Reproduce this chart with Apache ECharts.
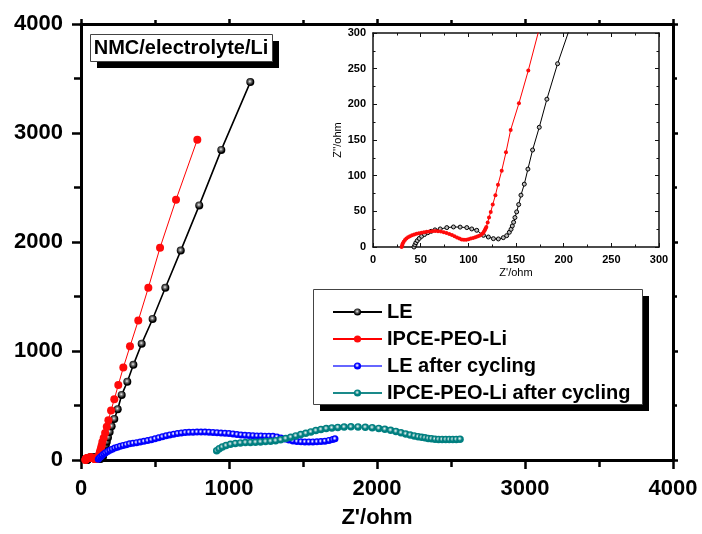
<!DOCTYPE html>
<html>
<head>
<meta charset="utf-8">
<title>NMC/electrolyte/Li impedance</title>
<script src="https://cdn.jsdelivr.net/npm/echarts@6/dist/echarts.min.js"></script>
<style>
  html, body { margin: 0; padding: 0; background: #fff; }
  #chart { width: 702px; height: 534px; }
</style>
</head>
<body>
<div id="chart"></div>
<script>
// Nyquist data, [Z' (ohm), Z'' (ohm)]
const seriesNames = ['LE', 'IPCE-PEO-Li', 'LE after cycling', 'IPCE-PEO-Li after cycling'];

const le = [
  [43,0],[44,3],[45,6],[46.5,9],[48.5,12],[51,15],[54,17.5],[57.5,20],[61,22],[65,24],
  [70.5,25.3],[77.4,27.2],[84.4,28.1],[91.4,27.9],[98.4,27.2],[103.6,25.3],[108.8,23.4],
  [115.8,16.4],[121,14],[126.3,11.7],[131.5,11.3],[136.7,13.1],[140.2,15.9],[143,20.6],
  [144.8,24.8],[146.1,29.5],[147.5,34.7],[148.9,41.3],[150.7,49.2],[152.8,59.5],[155.2,72.7],
  [158.7,88.1],[162.5,109.2],[167.4,136],[174.4,167.8],[182.4,207.2],[193.6,256.9],[207,309],
  [225,376],[248,466],[275,597],[313,718],[354,873],[410,1067],[484,1294],[570,1580],
  [674,1921],[799,2336],[948,2845],[1144,3467]
];

const ipce = [
  [30,0],[30.5,2.5],[31.2,5],[32.2,7.5],[33.5,9.8],[35,11.8],[36.8,13.5],[38.8,15],[41,16.3],
  [43.3,17.4],[45.7,18.4],[48.2,19.3],[50.8,20.1],[53.5,20.8],[56.3,21.4],[59.2,21.9],[62.2,22.2],
  [65.2,22.3],[68.2,22.1],[71.2,21.6],[74.2,20.8],[77.1,19.7],[80,18.3],[82.8,16.7],[85.5,15],
  [88.1,13.3],[90.6,11.8],[93,10.6],[95.4,10],[97.8,10.2],[100.2,10.9],[102.6,11.8],[105,12.7],
  [107.3,13.6],[109.5,14.6],[111.5,15.8],[113.3,17.2],[114.9,19],[116.2,21.2],[117.2,23.5],
  [118.1,26],[118.9,28.1],[120.3,34.2],[121.7,41.3],[123.5,49.2],[125.6,59.5],[128.4,72.7],
  [131.1,87.2],[135,106.9],[139.5,132.7],[144.4,164.1],[153.1,201.6],[162.9,247.5],[174,304],
  [185,364],[203,455],[225,557],[252,688],[286,848],[331,1043],[387,1279],[455,1580],
  [534,1948],[642,2388],[786,2939]
];

const leCycled = [
  [117,6],[124,18],[133,30],[143,42],[154,54],[166,66],[180,78],[195,89],[211,99],[228,109],
  [246,118],[265,126],[285,134],[306,141],[328,148],[351,154],[375,159],[400,165],[425,171],
  [450,178],[475,186],[500,195],[525,204],[550,213],[575,222],[600,230],[626,237],[652,243],
  [678,248],[704,252],[730,254],[757,255],[784,256],[811,256],[838,256],[865,255],[892,253],
  [919,250],[946,247],[973,245],[1000,243],[1027,239],[1054,234],[1081,230],[1108,227],
  [1135,225],[1162,223],[1189,221],[1216,221],[1243,219],[1270,218],[1297,217],[1324,212],
  [1351,202],[1378,192],[1405,183],[1432,175],[1459,170],[1486,167],[1513,166],[1540,166],
  [1567,166],[1594,167],[1621,169],[1648,173],[1675,180],[1700,188],[1716,194]
];

const ipceCycled = [
  [917,85],[934,103],[955,119],[980,132],[1010,144],[1043,152],[1077,157],[1111,160],[1145,161],
  [1179,163],[1213,166],[1247,169],[1281,172],[1315,177],[1349,185],[1383,197],[1417,209],
  [1451,221],[1485,233],[1519,245],[1553,258],[1587,270],[1621,280],[1657,288],[1695,294],
  [1735,299],[1778,302],[1824,304],[1872,303],[1921,300],[1968,296],[2012,290],[2053,282],
  [2092,272],[2128,262],[2162,250],[2194,239],[2224,229],[2252,221],[2278,214],[2302,208],
  [2324,203],[2346,198],[2368,195],[2392,191],[2416,189],[2440,188],[2464,188],[2488,188],
  [2512,188],[2536,189],[2561,191]
];

// Axis settings
const mainRange = { min: 0, max: 4000, interval: 1000 };
const insetRange = { min: 0, max: 300, interval: 50 };
const titleText = 'NMC/electrolyte/Li';
const xName = "Z'/ohm";
const yNameInset = "Z''/ohm";

const FONT = '"Liberation Sans", Arial, sans-serif';
const plain = v => String(v);

function sphere(center, mid, edge, midStop, edgeStop) {
  return {
    type: 'radial', x: 0.45, y: 0.42, r: 0.6,
    colorStops: [
      { offset: 0, color: center },
      { offset: midStop, color: mid },
      { offset: edgeStop, color: edge },
      { offset: 1, color: edge }
    ]
  };
}

const chart = echarts.init(document.getElementById('chart'), null, { renderer: 'canvas' });

function mainAxis(pos, showLabel) {
  return {
    type: 'value', gridIndex: 0, position: pos,
    min: mainRange.min, max: mainRange.max, interval: mainRange.interval,
    axisLine: { show: true, onZero: false, lineStyle: { color: '#000', width: 3 } },
    axisTick: { show: true, inside: false, length: showLabel ? 9 : 5, lineStyle: { color: '#000', width: 2.5 } },
    minorTick: { show: true, splitNumber: 2, length: showLabel ? 7 : 4, lineStyle: { color: '#000', width: 2.5 } },
    axisLabel: {
      show: showLabel, margin: 18, color: '#000', formatter: plain,
      fontFamily: FONT, fontWeight: 'bold', fontSize: 22
    },
    splitLine: { show: false },
    minorSplitLine: { show: false }
  };
}

function insetAxis(pos, showLabel) {
  return {
    type: 'value', gridIndex: 1, position: pos,
    min: insetRange.min, max: insetRange.max, interval: insetRange.interval,
    axisLine: { show: true, onZero: false, lineStyle: { color: '#111', width: 1.5 } },
    axisTick: { show: true, inside: true, length: 4, lineStyle: { color: '#111', width: 1 } },
    minorTick: { show: true, splitNumber: 2, length: 2.5, lineStyle: { color: '#111', width: 1 } },
    axisLabel: {
      show: showLabel, margin: 7, color: '#000', formatter: plain,
      fontFamily: FONT, fontWeight: 'bold', fontSize: 11
    },
    splitLine: { show: false },
    minorSplitLine: { show: false }
  };
}

const xMain = mainAxis('bottom', true);
xMain.name = xName;
xMain.nameLocation = 'middle';
xMain.nameGap = 47;
xMain.nameTextStyle = { fontFamily: FONT, fontWeight: 'bold', fontSize: 22, color: '#000' };

const xInset = insetAxis('bottom', true);
xInset.name = xName;
xInset.nameLocation = 'middle';
xInset.nameGap = 20;
xInset.nameTextStyle = { fontFamily: FONT, fontSize: 11, color: '#000' };

const yInset = insetAxis('left', true);
yInset.name = yNameInset;
yInset.nameLocation = 'middle';
yInset.nameGap = 30;
yInset.nameTextStyle = { fontFamily: FONT, fontSize: 11, color: '#000' };

const blackSym = sphere('#f4f4f4', '#7a7a7a', '#000', 0.3, 0.75);
const blueSym = sphere('#ffffff', '#b8b8ff', '#0000ff', 0.18, 0.5);
const tealSym = sphere('#f2f8f8', '#9fcccc', '#007f80', 0.18, 0.5);

function lineSeries(name, data, xi, yi, opts) {
  return Object.assign({
    name: name, type: 'line', data: data,
    xAxisIndex: xi, yAxisIndex: yi,
    symbol: 'circle', showSymbol: true, showAllSymbol: true,
    clip: true, smooth: false,
    emphasis: { disabled: true },
    silent: true
  }, opts);
}

// boxed label with a solid drop shadow
function shadowBox(x, y, w, h, off) {
  return [
    { type: 'rect', left: x + off, top: y + off, z: 1, silent: true,
      shape: { width: w, height: h }, style: { fill: '#000' } },
    { type: 'rect', left: x, top: y, z: 2, silent: true,
      shape: { width: w, height: h }, style: { fill: '#fff', stroke: '#444', lineWidth: 1 } }
  ];
}

const option = {
  animation: false,
  backgroundColor: '#fff',
  textStyle: { fontFamily: FONT },
  grid: [
    { left: 81, top: 24, width: 592, height: 440, containLabel: false },
    { left: 373, top: 33, width: 286, height: 214, containLabel: false }
  ],
  xAxis: [
    xMain,
    mainAxis('top', false),
    xInset,
    insetAxis('top', false)
  ],
  yAxis: [
    mainAxis('left', true),
    mainAxis('right', false),
    yInset,
    insetAxis('right', false)
  ],
  legend: {
    data: seriesNames,
    orient: 'vertical',
    left: 313, top: 289, z: 10,
    padding: [13, 8, 2, 19],
    itemWidth: 49, itemHeight: 9, itemGap: 7,
    selectedMode: false,
    textStyle: { fontFamily: FONT, fontWeight: 'bold', fontSize: 20, lineHeight: 20, color: '#000' }
  },
  graphic: [].concat(
    shadowBox(313, 289, 329, 115, 7),
    shadowBox(90, 34, 182, 27, 7),
    [{
      type: 'text', x: 181, y: 48, z: 3, silent: true,
      style: { text: titleText, fill: '#000', align: 'center', verticalAlign: 'middle',
               font: 'bold 20px ' + FONT }
    }]
  ),
  series: [
    lineSeries(seriesNames[0], le, 0, 0, {
      symbolSize: 8,
      lineStyle: { color: '#000', width: 1.6 },
      itemStyle: { color: blackSym }
    }),
    lineSeries(seriesNames[1], ipce, 0, 0, {
      symbolSize: 8,
      lineStyle: { color: '#ff0000', width: 1 },
      itemStyle: { color: '#ff0a0a' }
    }),
    lineSeries(seriesNames[2], leCycled, 0, 0, {
      symbolSize: 7,
      lineStyle: { color: '#6666ff', width: 1.5 },
      itemStyle: { color: blueSym }
    }),
    lineSeries(seriesNames[3], ipceCycled, 0, 0, {
      symbolSize: 7.5,
      lineStyle: { color: '#1a8a8a', width: 1 },
      itemStyle: { color: tealSym }
    }),
    // inset: high-frequency region of the two fresh cells
    lineSeries(seriesNames[0], le, 2, 2, {
      symbolSize: 4,
      lineStyle: { color: '#000', width: 1 },
      itemStyle: { color: '#bbb', borderColor: '#000', borderWidth: 1 }
    }),
    lineSeries(seriesNames[1], ipce, 2, 2, {
      symbolSize: 4,
      lineStyle: { color: '#ff0000', width: 1 },
      itemStyle: { color: '#ff0a0a' }
    })
  ]
};

chart.setOption(option);
</script>
</body>
</html>
